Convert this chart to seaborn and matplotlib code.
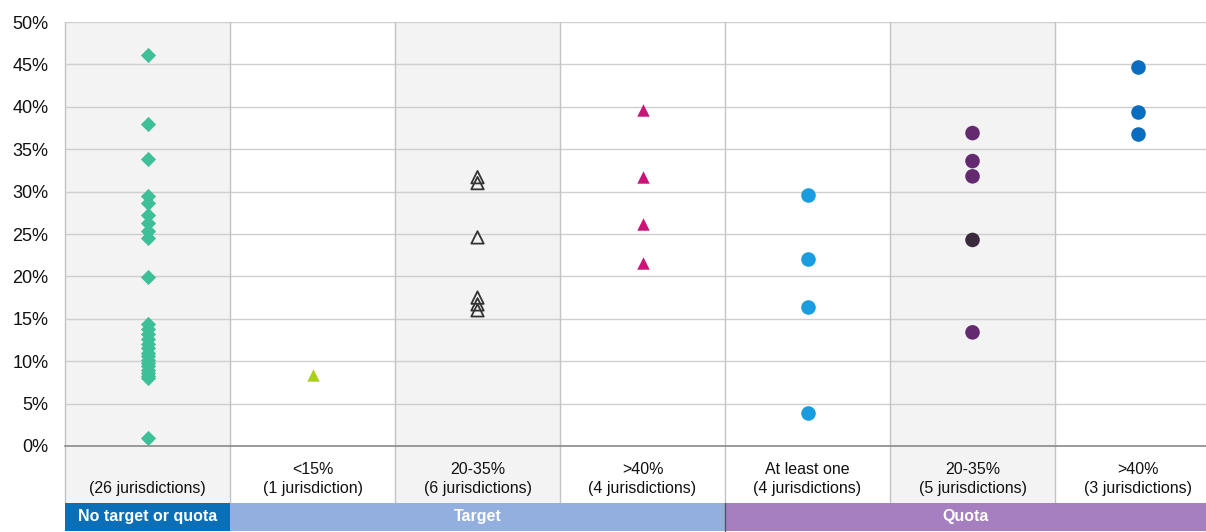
import numpy as np
import pandas as pd
import matplotlib
matplotlib.use("Agg")
import matplotlib.pyplot as plt
import matplotlib.transforms as mtransforms
from matplotlib.patches import Rectangle
import seaborn as sns

# ------ Dados ------ #

categories = ["none", "t_lt15", "t_20_35", "t_gt40", "q_one", "q_20_35", "q_gt40"]

top_labels = ["", "<15%", "20-35%", ">40%", "At least one", "20-35%", ">40%"]
bottom_labels = ["(26 jurisdictions)", "(1 jurisdiction)", "(6 jurisdictions)",
                 "(4 jurisdictions)", "(4 jurisdictions)", "(5 jurisdictions)",
                 "(3 jurisdictions)"]

no_target = [46.1, 38.0, 33.8, 29.5, 28.6, 27.2, 26.3, 25.4, 24.5, 19.9,
             14.4, 13.8, 13.2, 12.6, 12.0, 11.5, 11.0, 10.6, 10.2, 9.8,
             9.4, 9.0, 8.6, 8.3, 8.0, 0.9]
target_lt15 = [8.4]
target_20_35 = [31.7, 31.0, 24.6, 17.5, 16.7, 16.0]
target_gt40 = [39.6, 31.7, 26.2, 21.6]
quota_one = [29.6, 22.0, 16.4, 3.9]
quota_20_35 = [36.9, 33.6, 31.8, 24.3, 13.4]
quota_gt40 = [44.7, 39.4, 36.8]

groups = ["No target or quota", "Target", "Quota"]
group_span = [(0, 0), (1, 3), (4, 6)]
group_colors = ["#0b6fb8", "#93afe0", "#a57fbf"]

# ------ Estilo ------ #

sns.set_theme(style="white")
plt.rcParams["font.family"] = ["Liberation Sans", "DejaVu Sans"]

fig = plt.figure(figsize=(12.06, 5.32), dpi=100)
ax = fig.add_axes([65 / 1206, 1 - 446 / 532, 1 - 65 / 1206, 424 / 532])

# (valores, categoria, marcador, cor, tamanho, tipo)
series = [
    (no_target, "none", "D", "#3dbf98", 60, None),
    (target_lt15, "t_lt15", "^", "#a9cf1f", 80, None),
    (target_20_35, "t_20_35", "^", "#333333", 80, "open"),
    (target_gt40, "t_gt40", "^", "#cc1377", 80, None),
    (quota_one, "q_one", "o", "#1a9de0", 110, None),
    (quota_20_35, "q_20_35", "o", "#642a70", 110, "dark"),
    (quota_gt40, "q_gt40", "o", "#0a6dbf", 110, None),
]

# colunas sombreadas
for i in [0, 2, 5]:
    ax.axvspan(i - 0.5, i + 0.5, color="#f3f3f3", zorder=0)

for vals, cat, mk, col, s, kind in series:
    df = pd.DataFrame({"cat": [cat] * len(vals), "val": vals})
    n_before = len(ax.collections)
    sns.stripplot(data=df, x="cat", y="val", order=categories, jitter=False,
                  marker=mk, color=col, size=np.sqrt(s), linewidth=0, ax=ax, zorder=3)
    new = ax.collections[n_before:]
    for pts in new:
        if kind == "open":
            pts.set_facecolor("none")
            pts.set_edgecolor(col)
            pts.set_linewidth(1.3)
        elif kind == "dark":
            # um ponto mais escuro na coluna de cotas 20-35%
            fcs = [col] * len(vals)
            fcs[3] = "#3b2a3d"
            pts.set_facecolors(fcs)

ax.set_xlim(-0.5, 6.415)
ax.set_ylim(0, 50)
ax.set_yticks(np.arange(0, 51, 5))
ax.set_yticklabels([f"{v}%" for v in range(0, 51, 5)], fontsize=13, color="#111111")
ax.tick_params(axis="y", length=0, pad=12)
ax.set_xticks([])
ax.set_xlabel("")
ax.set_ylabel("")
ax.grid(axis="y", color="#cfcfcf", linewidth=1)
ax.set_axisbelow(True)
for sp in ["top", "right", "left"]:
    ax.spines[sp].set_visible(False)
ax.spines["bottom"].set_color("#8a8a8a")
ax.spines["bottom"].set_linewidth(1.2)

# linhas verticais entre colunas (até a linha de rótulos)
trans = mtransforms.blended_transform_factory(ax.transData, ax.transAxes)
row_h = 57 / 424
bar_h = 28 / 424
for i in range(7):
    ax.plot([i - 0.5, i - 0.5], [-row_h, 1], transform=trans, color="#c4c4c4",
            linewidth=1, clip_on=False, zorder=1)

# linha de rótulos
for i in range(7):
    if i in [0, 2, 5]:
        ax.add_patch(Rectangle((i - 0.5, -row_h), 1, row_h, transform=trans,
                               facecolor="#f3f3f3", edgecolor="none", clip_on=False, zorder=0))
    ax.text(i, -23 / 424, top_labels[i], transform=trans, ha="center", va="center",
            fontsize=11.5, color="#111111")
    ax.text(i, -42 / 424, bottom_labels[i], transform=trans, ha="center", va="center",
            fontsize=11.5, color="#111111")

# barra de grupos
for name, (a, b), col in zip(groups, group_span, group_colors):
    right = b + 0.5 if b < 6 else 6.415
    ax.add_patch(Rectangle((a - 0.5, -row_h - bar_h), right - (a - 0.5), bar_h,
                           transform=trans, facecolor=col, edgecolor="none",
                           clip_on=False, zorder=2))
    ax.text((a - 0.5 + right) / 2, -row_h - bar_h / 2, name, transform=trans,
            ha="center", va="center", fontsize=11.5, fontweight="bold", color="white",
            zorder=3)

# separação entre Target e Quota na barra
ax.plot([3.5, 3.5], [-row_h - bar_h, -row_h], transform=trans, color="#555555",
        linewidth=1, clip_on=False, zorder=4)

fig.savefig("out.png", dpi=100)
